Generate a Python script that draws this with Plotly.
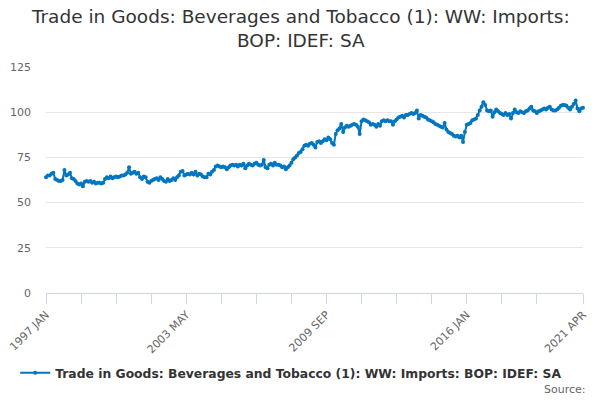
import plotly.graph_objects as go

series_name = "Trade in Goods: Beverages and Tobacco (1): WW: Imports: BOP: IDEF: SA"

month_names = ["JAN", "FEB", "MAR", "APR", "MAY", "JUN",
               "JUL", "AUG", "SEP", "OCT", "NOV", "DEC"]
months = [f"{y} {m}" for y in range(1997, 2021) for m in month_names]
months += ["2021 JAN", "2021 FEB", "2021 MAR", "2021 APR"]

# values, one row per year
values = [
    64, 65, 65, 66, 66.5, 63, 62.5, 62, 62, 62.5, 68, 65,                      # 1997
    65.5, 66.5, 63.5, 63, 62, 60.5, 60, 60.5, 59, 61.5, 62, 61.5,              # 1998
    62, 61, 61.5, 60.5, 61, 61, 60.5, 61, 63, 64, 63.5, 64.5,                  # 1999
    63.5, 64, 64.5, 64, 64.5, 65, 65, 65.5, 66.5, 69.5, 66, 66.5,              # 2000
    67, 66, 66.5, 64, 63, 64.5, 64, 61.5, 61, 62, 62.5, 63,                    # 2001
    63.5, 62.5, 64, 63, 62, 61.5, 63, 62, 62.5, 63.5, 62.5, 64,                # 2002
    65, 67, 67.5, 65, 65.5, 66, 65.5, 66.5, 65.5, 67, 65, 66,                  # 2003
    65.5, 64.5, 64, 64, 66, 65.5, 67, 68, 70, 70.5, 70, 69.5,                  # 2004
    70, 69.5, 68.5, 69.5, 70.5, 71, 70.5, 71, 70, 71, 70.5, 71.5,              # 2005
    69, 70.5, 71.5, 71, 70.5, 71.5, 72, 71, 70.5, 71, 73.5, 69.5,              # 2006
    69, 71, 71.5, 70.5, 72, 71, 71, 70.5, 69.5, 70, 68.5, 69.5,                # 2007
    70.5, 72, 74, 75, 76, 77.5, 78, 79.5, 81.5, 82, 81.5, 82.5,                # 2008
    83, 82, 80.5, 83.5, 84, 83, 84, 85, 84.5, 86, 85, 83,                      # 2009
    82, 88, 90, 91, 93.5, 89, 91.5, 92.5, 92, 92.5, 93, 93.5,                  # 2010
    93, 92, 88, 95, 96, 95.5, 95, 94.5, 93, 93.5, 93, 92,                      # 2011
    93.5, 92.5, 95, 95.5, 95, 95.5, 95, 95, 93, 95, 96, 97,                    # 2012
    97.5, 98, 97, 98.5, 98.5, 99, 99.5, 99, 99.5, 101, 96.5, 98.5,             # 2013
    98, 97.5, 97, 96, 95.5, 95, 94.5, 93.5, 93, 92.5, 92, 91.5,                # 2014
    94, 90.5, 89, 88.5, 88, 87, 86.5, 87, 86, 87, 83.5, 89,                    # 2015
    93, 93.5, 94, 95.5, 96, 96.5, 98.5, 101, 103, 105.5, 104, 101,             # 2016
    100.5, 101, 97.5, 100, 101.5, 100.5, 99.5, 99, 98.5, 99.5, 98.5, 99,       # 2017
    96.5, 99.5, 101.5, 100, 99.5, 100.5, 100, 99.5, 100.5, 101, 102, 103,      # 2018
    101, 100.5, 99.5, 100.5, 101, 101.5, 102, 101.5, 102.5, 103, 101.5, 101,   # 2019
    101, 101.5, 102.5, 103.5, 104, 104, 103.5, 102.5, 101.5, 103, 104.5, 106.5,  # 2020
    102, 100.5, 102, 102.5,                                                    # 2021
]

tick_months = months[0:267:19] + [months[-1]]
labelled = ["1997 JAN", "2003 MAY", "2009 SEP", "2016 JAN", "2021 APR"]
tick_text = [m if m in labelled else "" for m in tick_months]

blue = "#0076c0"

fig = go.Figure()
fig.add_trace(go.Scatter(
    x=months,
    y=values,
    mode="lines+markers",
    name=series_name,
    line=dict(color=blue, width=2),
    marker=dict(color=blue, size=4),
    cliponaxis=False,
))

# the page adds an 8px body margin, so everything is shifted up/left by 8
fig.update_layout(
    width=600,
    height=400,
    margin=dict(l=38, r=25, t=59, b=115, autoexpand=False),
    paper_bgcolor="white",
    plot_bgcolor="white",
    font=dict(family="DejaVu Sans", color="#666666"),
    title=dict(
        text="Trade in Goods: Beverages and Tobacco (1): WW: Imports:<br>BOP: IDEF: SA",
        x=0.488, xanchor="center", y=0.9625, yanchor="top",
        font=dict(size=18.5, color="#333333"),
    ),
    showlegend=True,
    legend=dict(
        orientation="h",
        xref="container", yref="container",
        x=0.472, xanchor="center",
        y=0.0868, yanchor="middle",
        font=dict(size=12.35, color="#333333", weight="bold"),
    ),
)

fig.update_xaxes(
    type="category",
    range=[0, len(months) - 1],
    tickvals=tick_months,
    ticktext=tick_text,
    tickangle=-45,
    ticks="outside",
    ticklen=10,
    tickcolor="#ccd6eb",
    showline=True,
    linecolor="#ccd6eb",
    showgrid=False,
    automargin=False,
    tickfont=dict(size=11, color="#666666"),
)

fig.update_yaxes(
    range=[0, 125],
    tickvals=[0, 25, 50, 75, 100, 125],
    showgrid=True,
    gridcolor="#e6e6e6",
    zeroline=False,
    showline=False,
    automargin=False,
    ticklabelstandoff=14,
    tickfont=dict(size=11, color="#666666"),
)

fig.add_annotation(
    text="Source:",
    xref="paper", yref="paper",
    x=1.009, xanchor="right",
    y=-0.429, yanchor="middle",
    showarrow=False,
    font=dict(size=11, color="#666666"),
)

fig.write_html("out.html")
